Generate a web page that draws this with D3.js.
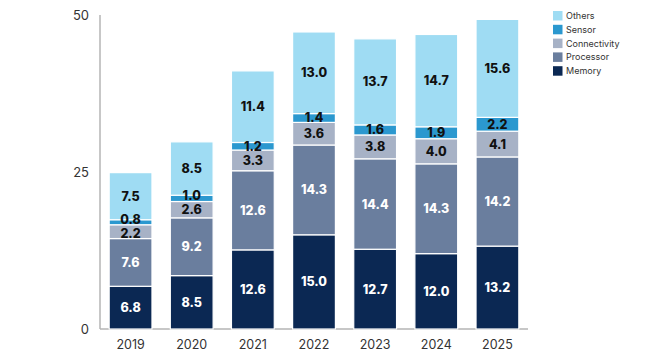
<!DOCTYPE html>
<html>
<head>
<meta charset="utf-8">
<script src="https://cdn.jsdelivr.net/npm/d3@7"></script>
<style>
  body { margin: 0; background: #fff; }
  svg { display: block; font-family: Inter, "Noto Sans", sans-serif; }
</style>
</head>
<body>
<div id="chart"></div>
<script>
const years = ['2019', '2020', '2021', '2022', '2023', '2024', '2025'];
const series = ['Memory', 'Processor', 'Connectivity', 'Sensor', 'Others'];
const memory = [6.8, 8.5, 12.6, 15.0, 12.7, 12.0, 13.2];
const processor = [7.6, 9.2, 12.6, 14.3, 14.4, 14.3, 14.2];
const connectivity = [2.2, 2.6, 3.3, 3.6, 3.8, 4.0, 4.1];
const sensor = [0.8, 1.0, 1.2, 1.4, 1.6, 1.9, 2.2];
const others = [7.5, 8.5, 11.4, 13.0, 13.7, 14.7, 15.6];
const yTicks = [0, 25, 50];

const colors = ['#0b2853', '#6a7e9e', '#a7b2c6', '#2b98cf', '#9fdcf3'];
const labelColors = ['#fff', '#fff', '#111', '#111', '#111'];

const width = 650, height = 354;
const values = [memory, processor, connectivity, sensor, others];
const rows = years.map((y, i) => {
    const r = { year: y };
    series.forEach((s, k) => r[s] = values[k][i]);
    return r;
});

const svg = d3.select('#chart').append('svg')
    .attr('width', width)
    .attr('height', height);

const x = d3.scaleBand().domain(years).range([100, 528])
    .paddingInner(0.3).paddingOuter(0.15);
const y = d3.scaleLinear().domain([0, 50]).range([329, 15]);

const stacked = d3.stack().keys(series)(rows);

// y axis line + baseline
svg.append('line')
    .attr('x1', 100).attr('x2', 100)
    .attr('y1', y(50)).attr('y2', y(0))
    .attr('stroke', '#b5b5b5').attr('stroke-width', 1.5);
svg.append('line')
    .attr('x1', 100).attr('x2', 528)
    .attr('y1', y(0)).attr('y2', y(0))
    .attr('stroke', '#b5b5b5').attr('stroke-width', 1.5);

svg.selectAll('.ytick')
    .data(yTicks)
    .enter().append('text')
    .attr('x', 89)
    .attr('y', d => y(d))
    .attr('dy', '0.35em')
    .attr('text-anchor', 'end')
    .attr('font-size', 13)
    .attr('fill', '#333')
    .text(d => d);

// all rects first, labels in their own group on top
const bars = svg.append('g');
const labels = svg.append('g');

stacked.forEach((s, k) => {
    bars.selectAll(`.seg-${k}`)
        .data(s)
        .enter().append('rect')
        .attr('class', `seg-${k}`)
        .attr('x', d => x(d.data.year))
        .attr('width', x.bandwidth())
        .attr('y', d => y(d[1]))
        .attr('height', d => y(d[0]) - y(d[1]))
        .attr('fill', colors[k])
        .attr('stroke', '#fff')
        .attr('stroke-width', 1.2);

    // thin segments: nudge label up a bit so it clears the one below
    labels.selectAll(`.lab-${k}`)
        .data(s)
        .enter().append('text')
        .attr('class', `lab-${k}`)
        .attr('x', d => x(d.data.year) + x.bandwidth() / 2)
        .attr('y', d => {
            const h = y(d[0]) - y(d[1]);
            let mid = (y(d[0]) + y(d[1])) / 2;
            if (h < 7) mid -= 2.5;
            if (k === 2 && h < 15) mid += 1.5;
            return mid;
        })
        .attr('dy', '0.36em')
        .attr('text-anchor', 'middle')
        .attr('font-size', 12.5)
        .attr('font-weight', 800)
        .attr('fill', labelColors[k])
        .text(d => (d[1] - d[0]).toFixed(1));
});

svg.selectAll('.xlab')
    .data(years)
    .enter().append('text')
    .attr('x', d => x(d) + x.bandwidth() / 2)
    .attr('y', 349)
    .attr('text-anchor', 'middle')
    .attr('font-size', 12.5)
    .attr('fill', '#333')
    .text(d => d);

// legend, top item is Others
const legend = svg.append('g').attr('transform', 'translate(553,11)');
const legendItems = series.slice().reverse();
legendItems.forEach((s, i) => {
    const g = legend.append('g').attr('transform', `translate(0,${i * 13.8})`);
    g.append('rect').attr('width', 9.5).attr('height', 9.5)
        .attr('fill', colors[series.indexOf(s)]);
    g.append('text').attr('x', 13).attr('y', 4.8).attr('dy', '0.35em')
        .attr('font-size', 9).attr('fill', '#333').text(s);
});
</script>
</body>
</html>
